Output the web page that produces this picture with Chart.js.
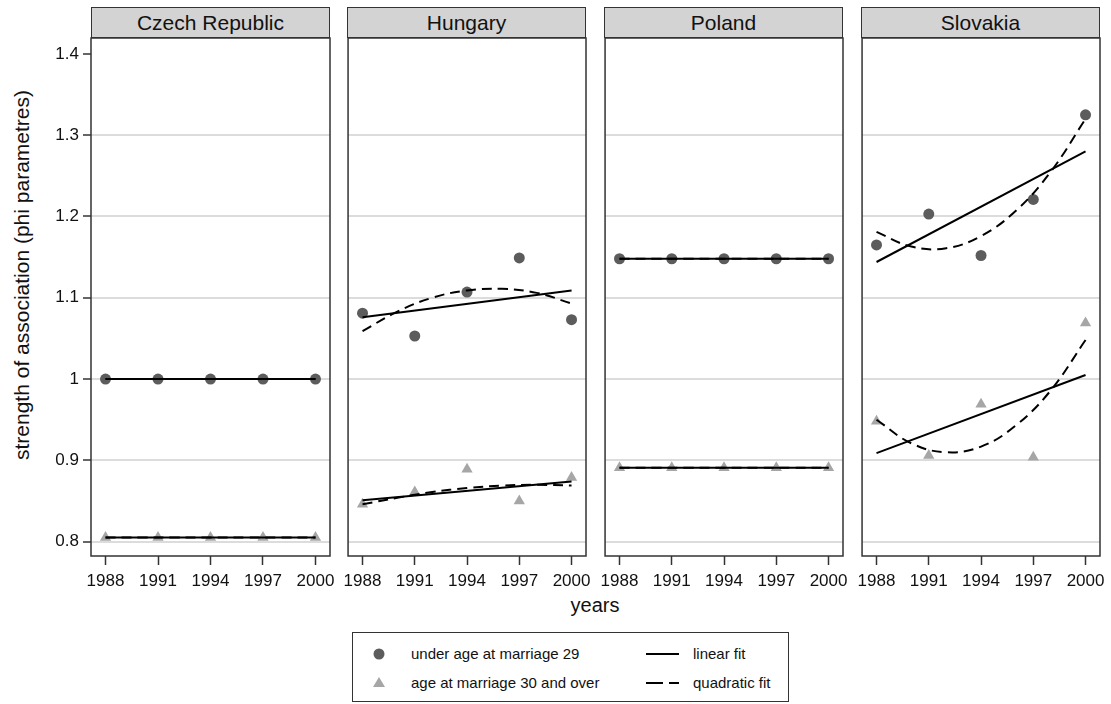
<!DOCTYPE html>
<html>
<head>
<meta charset="utf-8">
<script src="https://cdn.jsdelivr.net/npm/chart.js@4.4.1/dist/chart.umd.min.js"></script>
<style>
body { margin: 0; background: #fff; font-family: "Liberation Sans", Arial, sans-serif; color: #111; }
#wrap { position: relative; width: 1111px; height: 704px; overflow: hidden; }
canvas { position: absolute; }
.head { position: absolute; top: 7px; height: 29px; width: 237px; background: #d3d3d3; border: 1px solid #333;
        text-align: center; font-size: 21px; line-height: 29px; }
#ytitle { position: absolute; left: -228px; top: 262px; width: 500px; height: 26px; line-height: 26px;
          text-align: center; font-size: 21px; transform: rotate(-90deg); }
#xtitle { position: absolute; left: 495px; top: 594px; width: 200px; text-align: center; font-size: 20px; }
#legend { position: absolute; left: 352px; top: 632px; width: 435px; height: 68px; border: 1px solid #333; }
#legend svg { position: absolute; left: 0; top: 0; }
#legend .t { position: absolute; font-size: 15px; line-height: 18px; }
</style>
</head>
<body>
<div id="wrap">
  <div id="ytitle">strength of association (phi parametres)</div>
  <div id="xtitle">years</div>
  <div id="legend">
    <svg width="435" height="68">
      <circle cx="26" cy="21" r="5.5" fill="#5c5c5c"></circle>
      <polygon points="26,44 32,54 20,54" fill="#a6a6a6"></polygon>
      <line x1="293" y1="21" x2="326" y2="21" stroke="#000" stroke-width="2"></line>
      <line x1="293" y1="50" x2="310" y2="50" stroke="#000" stroke-width="2"></line>
      <line x1="316" y1="50" x2="326" y2="50" stroke="#000" stroke-width="2"></line>
    </svg>
    <div class="t" style="left:58px; top:12px">under age at marriage 29</div>
    <div class="t" style="left:58px; top:41px">age at marriage 30 and over</div>
    <div class="t" style="left:340px; top:12px">linear fit</div>
    <div class="t" style="left:340px; top:41px">quadratic fit</div>
  </div>
</div>
<script>
const years = [1988, 1991, 1994, 1997, 2000]
const tickYears = [1988, 1991, 1994, 1997, 2000]
const fitYears = [1988, 2000]
const quadYears = [1988, 1990, 1992, 1994, 1996, 1998, 2000]
const yTicks = [0.8, 0.9, 1, 1.1, 1.2, 1.3, 1.4]
const countries = ['Czech Republic', 'Hungary', 'Poland', 'Slovakia']

// Czech Republic
const czUnder = [1, 1, 1, 1, 1]
const czOver = [0.805, 0.805, 0.805, 0.805, 0.805]
const czLinUnder = [1, 1]
const czLinOver = [0.805, 0.805]
const czQuadUnder = [1, 1, 1, 1, 1, 1, 1]
const czQuadOver = [0.805, 0.805, 0.805, 0.805, 0.805, 0.805, 0.805]

// Hungary
const huUnder = [1.081, 1.053, 1.107, 1.149, 1.073]
const huOver = [0.846, 0.861, 0.889, 0.850, 0.879]
const huLinUnder = [1.076, 1.109]
const huLinOver = [0.851, 0.874]
const huQuadUnder = [1.059, 1.083, 1.100, 1.109, 1.111, 1.106, 1.093]
const huQuadOver = [0.846, 0.854, 0.861, 0.866, 0.869, 0.870, 0.869]

// Poland
const plUnder = [1.148, 1.148, 1.148, 1.148, 1.148]
const plOver = [0.891, 0.891, 0.891, 0.891, 0.891]
const plLinUnder = [1.148, 1.148]
const plLinOver = [0.891, 0.891]
const plQuadUnder = [1.148, 1.148, 1.148, 1.148, 1.148, 1.148, 1.148]
const plQuadOver = [0.891, 0.891, 0.891, 0.891, 0.891, 0.891, 0.891]

// Slovakia
const skUnder = [1.165, 1.203, 1.152, 1.221, 1.325]
const skOver = [0.948, 0.906, 0.969, 0.904, 1.069]
const skLinUnder = [1.144, 1.280]
const skLinOver = [0.909, 1.005]
const skQuadUnder = [1.181, 1.163, 1.161, 1.176, 1.207, 1.255, 1.320]
const skQuadOver = [0.950, 0.921, 0.910, 0.917, 0.943, 0.986, 1.048]

let panels = [
    { under: czUnder, over: czOver, linUnder: czLinUnder, linOver: czLinOver, quadUnder: czQuadUnder, quadOver: czQuadOver },
    { under: huUnder, over: huOver, linUnder: huLinUnder, linOver: huLinOver, quadUnder: huQuadUnder, quadOver: huQuadOver },
    { under: plUnder, over: plOver, linUnder: plLinUnder, linOver: plLinOver, quadUnder: plQuadUnder, quadOver: plQuadOver },
    { under: skUnder, over: skOver, linUnder: skLinUnder, linOver: skLinOver, quadUnder: skQuadUnder, quadOver: skQuadOver }
]

let panelLeft = [91, 347, 604, 861]
let panelWidth = 239
let padTop = 16
let fontFam = '"Liberation Sans", Arial, sans-serif'

function pts(xs, ys) {
    return xs.map((x, i) => ({ x: x, y: ys[i] }))
}

const frame = {
    id: 'frame',
    afterDraw(chart) {
        let a = chart.chartArea
        let c = chart.ctx
        c.save()
        c.strokeStyle = '#333'
        c.lineWidth = 1.5
        c.strokeRect(a.left, a.top, a.right - a.left, a.bottom - a.top)
        c.restore()
    }
}

let wrap = document.getElementById('wrap')

panels.forEach((p, i) => {
    let first = i == 0
    let padL = first ? 91 : 10

    let head = document.createElement('div')
    head.className = 'head'
    head.style.left = panelLeft[i] + 'px'
    head.textContent = countries[i]
    wrap.appendChild(head)

    let cv = document.createElement('canvas')
    cv.width = padL + panelWidth + 20
    cv.height = 556 - (38 - padTop) + 50
    cv.style.left = (panelLeft[i] - padL) + 'px'
    cv.style.top = (38 - padTop) + 'px'
    wrap.appendChild(cv)

    let lineDs = (data, dash, tension) => ({
        data: data, showLine: true, borderColor: '#000', borderWidth: 2,
        borderDash: dash, tension: tension, pointRadius: 0, fill: false
    })

    new Chart(cv, {
        type: 'scatter',
        data: {
            datasets: [
                lineDs(pts(fitYears, p.linUnder), [], 0),
                lineDs(pts(fitYears, p.linOver), [], 0),
                lineDs(pts(quadYears, p.quadUnder), [10, 6], 0.4),
                lineDs(pts(quadYears, p.quadOver), [10, 6], 0.4),
                { data: pts(years, p.under), pointStyle: 'circle', pointRadius: 5.5, backgroundColor: '#5c5c5c', borderWidth: 0 },
                { data: pts(years, p.over), pointStyle: 'triangle', pointRadius: 6.5, backgroundColor: '#a6a6a6', borderWidth: 0 }
            ]
        },
        options: {
            responsive: false,
            animation: false,
            events: [],
            layout: { padding: { top: padTop, right: 20, bottom: 0, left: first ? 0 : 10 } },
            plugins: { legend: { display: false }, tooltip: { enabled: false } },
            scales: {
                x: {
                    type: 'linear', min: 1987.17, max: 2000.83,
                    afterBuildTicks: s => { s.ticks = tickYears.map(v => ({ value: v })) },
                    afterFit: s => { s.height = 50 },
                    grid: { drawOnChartArea: false, drawTicks: true, tickLength: 9, tickColor: '#333', tickWidth: 1.5 },
                    border: { display: false },
                    ticks: { font: { size: 17, family: fontFam }, color: '#111', padding: 6, maxRotation: 0, autoSkip: false, callback: v => String(v) }
                },
                y: {
                    type: 'linear', min: 0.7824, max: 1.4195,
                    afterBuildTicks: s => { s.ticks = yTicks.map(v => ({ value: v })) },
                    afterFit: s => { s.width = first ? 91 : 0 },
                    grid: {
                        color: ctx => (ctx.tick && ctx.tick.value == 1.4) ? 'rgba(0,0,0,0)' : '#dcdcdc',
                        lineWidth: 2, drawTicks: first, tickLength: 8, tickColor: '#333', tickWidth: 1.5
                    },
                    border: { display: false },
                    ticks: { display: first, font: { size: 17, family: fontFam }, color: '#111', padding: 4, callback: v => String(v) }
                }
            }
        },
        plugins: [frame]
    })
})
</script>
</body>
</html>
